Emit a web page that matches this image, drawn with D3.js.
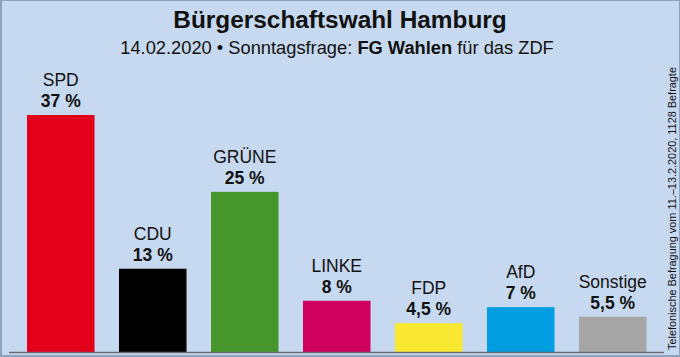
<!DOCTYPE html>
<html><head><meta charset="utf-8">
<script src="https://cdn.jsdelivr.net/npm/d3@7"></script>
<style>html,body{margin:0;padding:0;background:#c6d9f0;}svg{display:block;}</style>
</head><body>
<svg id="c" width="680" height="357"></svg>
<script>
const parties = ["SPD","CDU","GRÜNE","LINKE","FDP","AfD","Sonstige"];
const values = [37,13,25,8,4.5,7,5.5];
const valueLabels = ["37 %","13 %","25 %","8 %","4,5 %","7 %","5,5 %"];
const colors = ["#e3001b","#000000","#46962b","#d0005f","#f9e831","#009ee0","#a6a6a6"];
const title = "Bürgerschaftswahl Hamburg";
const note = "Telefonische Befragung vom 11.–13.2.2020, 1128 Befragte";

const svg = d3.select("#c");
const W = 680, H = 357;
const font = "'Liberation Sans', Arial, sans-serif";

svg.append("rect").attr("x",0).attr("y",0).attr("width",W).attr("height",H).attr("fill","#c6d9f0");

const x = d3.scaleBand().domain(parties).range([27, 646.5]).paddingInner(0.266).paddingOuter(0);
const y = d3.scaleLinear().domain([0, 37]).range([352, 115]);

svg.append("g").selectAll("rect").data(parties).join("rect")
  .attr("x", d => x(d))
  .attr("width", x.bandwidth())
  .attr("y", (d,i) => y(values[i]))
  .attr("height", (d,i) => y(0) - y(values[i]))
  .attr("fill", (d,i) => colors[i]);

// baseline
svg.append("line").attr("x1",9).attr("x2",664).attr("y1",352.5).attr("y2",352.5)
  .attr("stroke","#6b6b6b").attr("stroke-width",1.5);

const lab = svg.append("g").attr("font-family", font).attr("text-anchor","middle").attr("fill","#111");
lab.selectAll("text.name").data(parties).join("text").attr("class","name")
  .attr("x", d => x(d) + x.bandwidth()/2)
  .attr("y", (d,i) => y(values[i]) - 29)
  .attr("font-size", 17.5)
  .text(d => d);
lab.selectAll("text.val").data(parties).join("text").attr("class","val")
  .attr("x", d => x(d) + x.bandwidth()/2)
  .attr("y", (d,i) => y(values[i]) - 8)
  .attr("font-size", 17.5).attr("font-weight","bold")
  .text((d,i) => valueLabels[i]);

// title
svg.append("text").attr("x",340).attr("y",28).attr("text-anchor","middle")
  .attr("font-family",font).attr("font-weight","bold").attr("font-size",24.4).attr("fill","#111")
  .text(title);
const sub = svg.append("text").attr("x",337).attr("y",54).attr("text-anchor","middle")
  .attr("font-family",font).attr("font-size",18.3).attr("fill","#111");
sub.append("tspan").text("14.02.2020 • Sonntagsfrage: ");
sub.append("tspan").attr("font-weight","bold").text("FG Wahlen");
sub.append("tspan").text(" für das ZDF");

// side note
svg.append("text").attr("transform","translate(675.5,350) rotate(-90)")
  .attr("font-family",font).attr("font-size",10.9).attr("fill","#111")
  .text(note);

// border
svg.append("rect").attr("x",0.5).attr("y",0.5).attr("width",W-1).attr("height",H-1)
  .attr("fill","none").attr("stroke","#8fa2bd").attr("stroke-width",1);
svg.append("line").attr("x1",1).attr("x2",1).attr("y1",0).attr("y2",H).attr("stroke","#8fa2bd").attr("stroke-width",2);
svg.append("line").attr("x1",0).attr("x2",W).attr("y1",356).attr("y2",356).attr("stroke","#8fa2bd").attr("stroke-width",2);
</script>
</body></html>
